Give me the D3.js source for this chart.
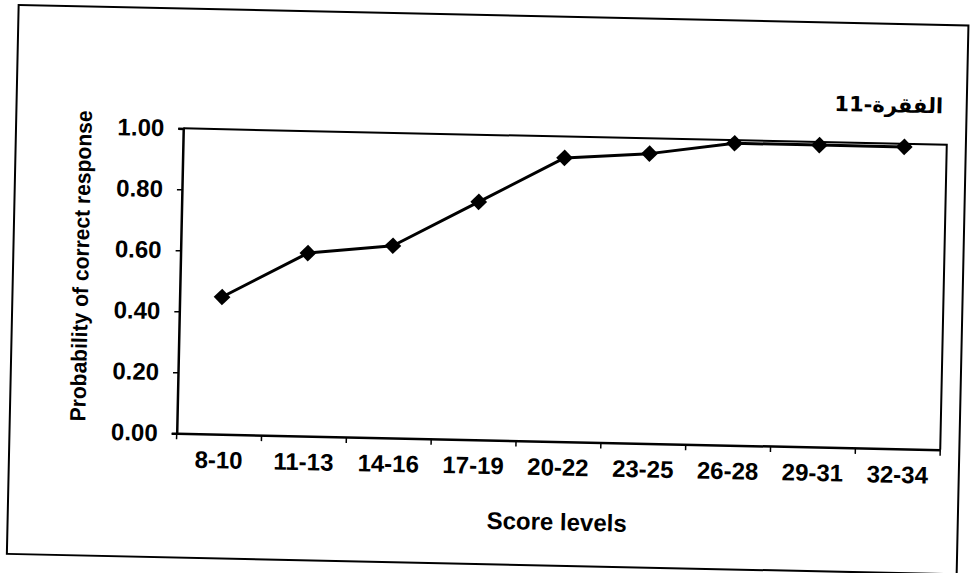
<!DOCTYPE html>
<html>
<head>
<meta charset="utf-8">
<script src="https://cdn.jsdelivr.net/npm/d3@7/dist/d3.min.js"></script>
<style>
  html, body { margin: 0; padding: 0; background: #fff; }
  svg { display: block; }
  text { fill: #000; }
</style>
</head>
<body>
<svg id="chart" width="973" height="573"></svg>
<script>
// Item characteristic data: probability of a correct answer per score level
const scoreLevels = ["8-10", "11-13", "14-16", "17-19", "20-22", "23-25", "26-28", "29-31", "32-34"];
const probCorrect = [0.45, 0.60, 0.63, 0.78, 0.93, 0.95, 0.99, 0.99, 0.99];
const yTickValues = [0, 0.2, 0.4, 0.6, 0.8, 1.0];
const chartTitle = "الفقرة-11";
const xTitle = "Score levels";
const yTitle = "Probability of correct response";

(function draw() {
  const svg = d3.select("#chart");
  const font = "'Liberation Sans', Arial, sans-serif";

  // plot frame
  const plotLeft = 176.7, plotRight = 940.4, plotTop = 128.3, plotBottom = 433.3;

  // the printed page sits slightly tilted
  const root = svg.append("g")
    .attr("transform", `rotate(1.23, ${plotLeft}, ${plotBottom})`);

  // outer chart border
  root.append("rect")
    .attr("x", 9.5).attr("y", 8.5)
    .attr("width", 950).attr("height", 549)
    .attr("fill", "none").attr("stroke", "#000").attr("stroke-width", 2);

  const x = d3.scaleBand().domain(scoreLevels).range([plotLeft, plotRight]);
  const y = d3.scaleLinear().domain([0, 1]).range([plotBottom, plotTop]);

  // plot area border (top and right sides)
  root.append("path")
    .attr("d", `M${plotLeft},${y(1)}H${plotRight}V${plotBottom}`)
    .attr("fill", "none").attr("stroke", "#000").attr("stroke-width", 2);

  // y axis
  const yAxis = root.append("g")
    .attr("transform", `translate(${plotLeft},0)`)
    .call(d3.axisLeft(y).tickValues(yTickValues).tickFormat(d3.format(".2f"))
      .tickSize(5).tickPadding(14));
  yAxis.select(".domain").attr("stroke", "#000").attr("stroke-width", 2.5);
  yAxis.selectAll(".tick line").attr("stroke", "#000").attr("stroke-width", 1.5);
  yAxis.selectAll(".tick text")
    .attr("font-family", font).attr("font-weight", "bold")
    .attr("font-size", 24).attr("fill", "#000");

  // x axis: labels centred in each band, ticks on band boundaries
  const xAxis = root.append("g")
    .attr("transform", `translate(0,${plotBottom})`)
    .call(d3.axisBottom(x).tickSize(0).tickSizeOuter(0).tickPadding(17));
  xAxis.select(".domain").attr("stroke", "#000").attr("stroke-width", 2.5);
  xAxis.selectAll(".tick text")
    .attr("font-family", font).attr("font-weight", "bold")
    .attr("font-size", 24).attr("fill", "#000");

  const boundaries = scoreLevels.map(d => x(d))
    .concat([x(scoreLevels[scoreLevels.length - 1]) + x.bandwidth()]);
  root.append("g").selectAll("line")
    .data(boundaries)
    .join("line")
    .attr("x1", d => d).attr("x2", d => d)
    .attr("y1", plotBottom).attr("y2", plotBottom + 6)
    .attr("stroke", "#000").attr("stroke-width", 1.5);

  // axis titles
  root.append("text")
    .attr("x", (plotLeft + plotRight) / 2).attr("y", 522)
    .attr("text-anchor", "middle")
    .attr("font-family", font)
    .attr("font-size", 24).attr("font-weight", "bold")
    .text(xTitle);

  root.append("text")
    .attr("transform", "translate(85,268) rotate(-90)")
    .attr("text-anchor", "middle")
    .attr("font-family", font)
    .attr("font-size", 22).attr("font-weight", "bold")
    .attr("textLength", 311).attr("lengthAdjust", "spacingAndGlyphs")
    .text(yTitle);

  // chart title
  root.append("text")
    .attr("x", 936).attr("y", 97)
    .attr("text-anchor", "end")
    .attr("font-family", "'DejaVu Sans', sans-serif")
    .attr("font-size", 21).attr("font-weight", "bold")
    .text(chartTitle);

  // series line and diamond markers
  const pts = scoreLevels.map((c, i) => [x(c) + x.bandwidth() / 2, y(probCorrect[i])]);
  root.append("path")
    .attr("d", d3.line()(pts))
    .attr("fill", "none").attr("stroke", "#000").attr("stroke-width", 3)
    .attr("stroke-linejoin", "round");

  const marker = d3.symbol().type(d3.symbolSquare).size(140);
  root.append("g").selectAll("path")
    .data(pts)
    .join("path")
    .attr("d", marker)
    .attr("transform", d => `translate(${d[0]},${d[1]}) rotate(45)`)
    .attr("fill", "#000");
})();
</script>
</body>
</html>
